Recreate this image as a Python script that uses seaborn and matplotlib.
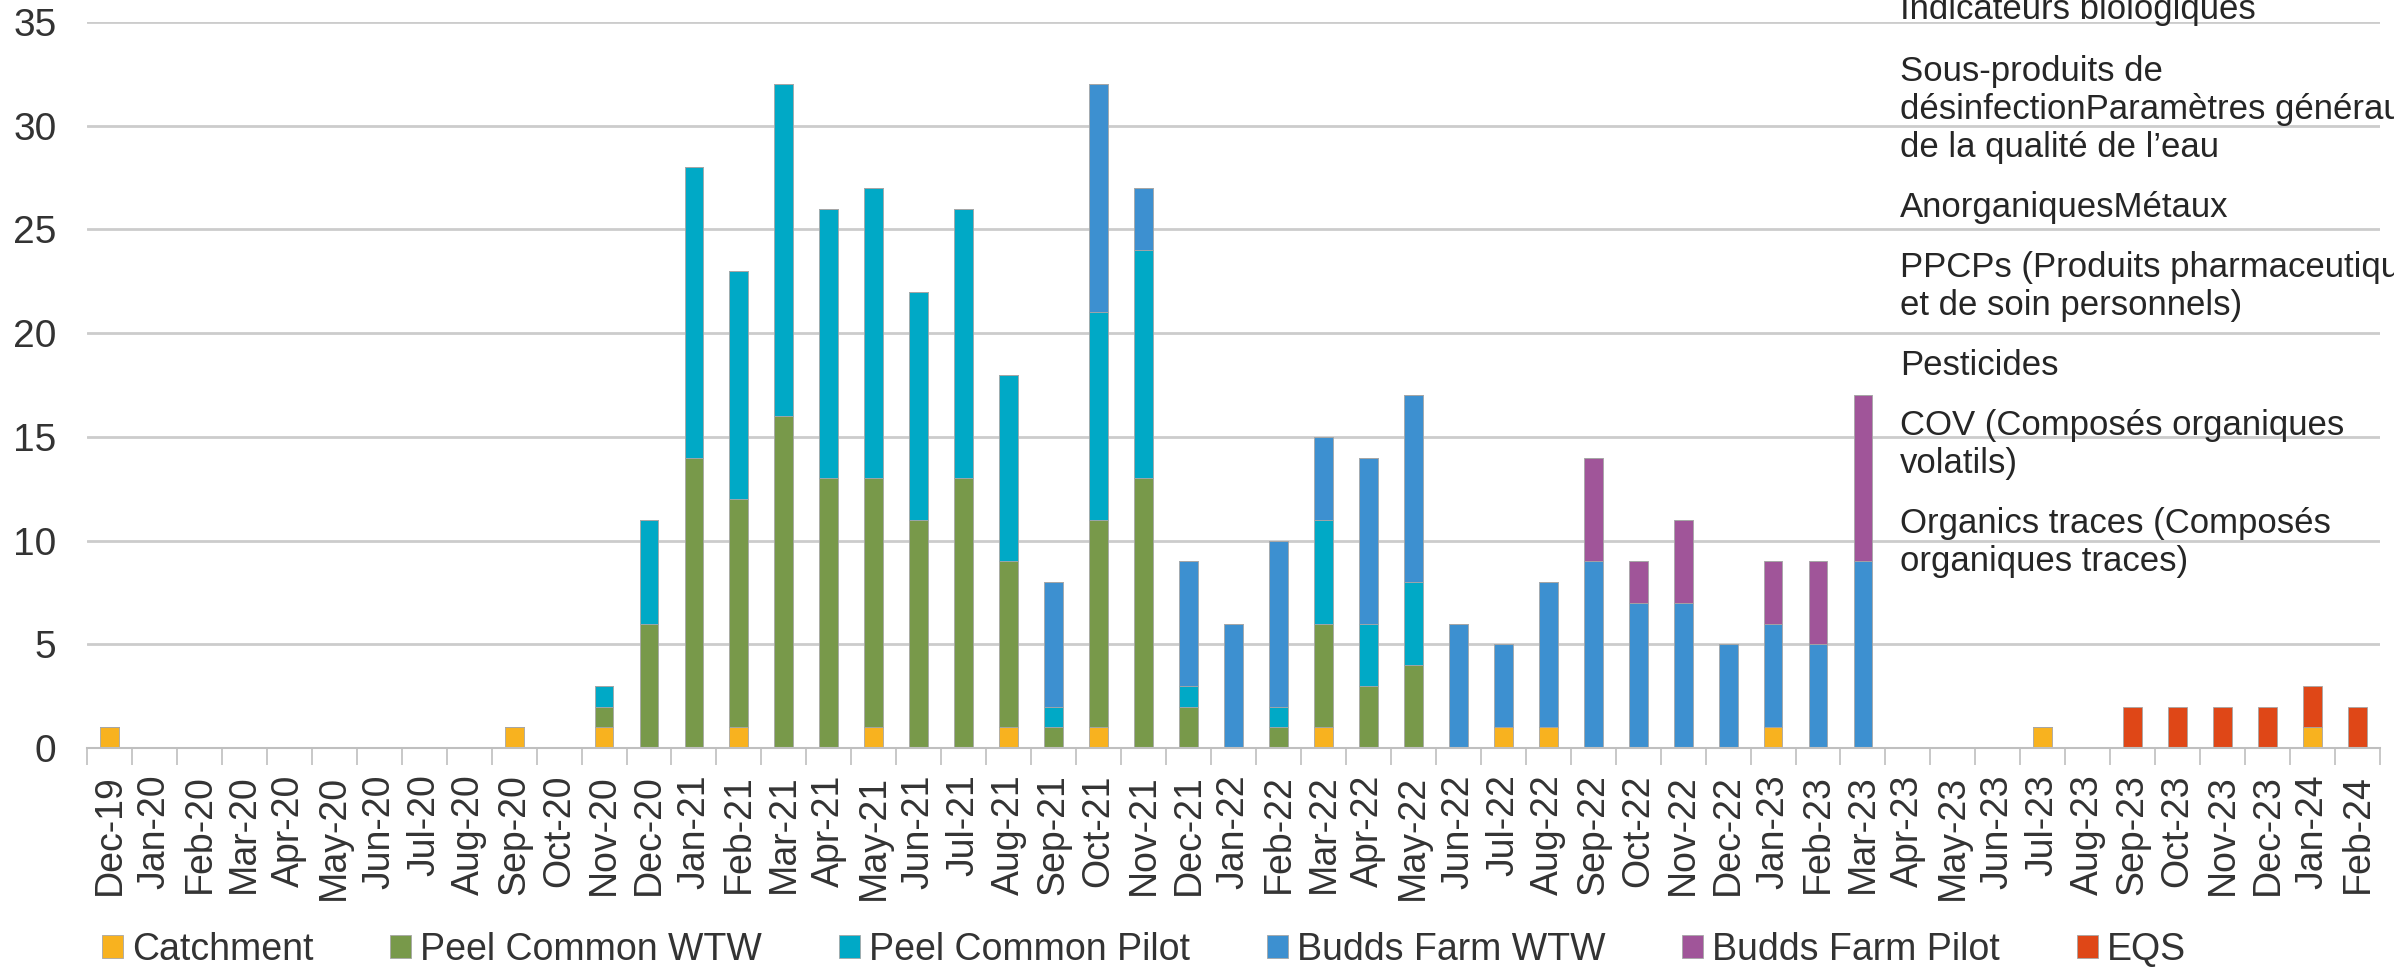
import matplotlib
matplotlib.use("Agg")
import matplotlib.pyplot as plt
from matplotlib.patches import Patch
import numpy as np
import pandas as pd
import seaborn as sns

months = ["Dec-19",
          "Jan-20", "Feb-20", "Mar-20", "Apr-20", "May-20", "Jun-20",
          "Jul-20", "Aug-20", "Sep-20", "Oct-20", "Nov-20", "Dec-20",
          "Jan-21", "Feb-21", "Mar-21", "Apr-21", "May-21", "Jun-21",
          "Jul-21", "Aug-21", "Sep-21", "Oct-21", "Nov-21", "Dec-21",
          "Jan-22", "Feb-22", "Mar-22", "Apr-22", "May-22", "Jun-22",
          "Jul-22", "Aug-22", "Sep-22", "Oct-22", "Nov-22", "Dec-22",
          "Jan-23", "Feb-23", "Mar-23", "Apr-23", "May-23", "Jun-23",
          "Jul-23", "Aug-23", "Sep-23", "Oct-23", "Nov-23", "Dec-23",
          "Jan-24", "Feb-24"]

# Dec-19..Dec-20 | 2021 | 2022 | 2023 | 2024
catchment = [1, 0, 0, 0, 0, 0, 0, 0, 0, 1, 0, 1, 0,
             0, 1, 0, 0, 1, 0, 0, 1, 0, 1, 0, 0,
             0, 0, 1, 0, 0, 0, 1, 1, 0, 0, 0, 0,
             1, 0, 0, 0, 0, 0, 1, 0, 0, 0, 0, 0,
             1, 0]
peel_wtw = [0, 0, 0, 0, 0, 0, 0, 0, 0, 0, 0, 1, 6,
            14, 11, 16, 13, 12, 11, 13, 8, 1, 10, 13, 2,
            0, 1, 5, 3, 4, 0, 0, 0, 0, 0, 0, 0,
            0, 0, 0, 0, 0, 0, 0, 0, 0, 0, 0, 0,
            0, 0]
peel_pilot = [0, 0, 0, 0, 0, 0, 0, 0, 0, 0, 0, 1, 5,
              14, 11, 16, 13, 14, 11, 13, 9, 1, 10, 11, 1,
              0, 1, 5, 3, 4, 0, 0, 0, 0, 0, 0, 0,
              0, 0, 0, 0, 0, 0, 0, 0, 0, 0, 0, 0,
              0, 0]
budds_wtw = [0, 0, 0, 0, 0, 0, 0, 0, 0, 0, 0, 0, 0,
             0, 0, 0, 0, 0, 0, 0, 0, 6, 11, 3, 6,
             6, 8, 4, 8, 9, 6, 4, 7, 9, 7, 7, 5,
             5, 5, 9, 0, 0, 0, 0, 0, 0, 0, 0, 0,
             0, 0]
budds_pilot = [0, 0, 0, 0, 0, 0, 0, 0, 0, 0, 0, 0, 0,
               0, 0, 0, 0, 0, 0, 0, 0, 0, 0, 0, 0,
               0, 0, 0, 0, 0, 0, 0, 0, 5, 2, 4, 0,
               3, 4, 8, 0, 0, 0, 0, 0, 0, 0, 0, 0,
               0, 0]
eqs = [0, 0, 0, 0, 0, 0, 0, 0, 0, 0, 0, 0, 0,
       0, 0, 0, 0, 0, 0, 0, 0, 0, 0, 0, 0,
       0, 0, 0, 0, 0, 0, 0, 0, 0, 0, 0, 0,
       0, 0, 0, 0, 0, 0, 0, 0, 2, 2, 2, 2,
       2, 2]

series_names = ["Catchment", "Peel Common WTW", "Peel Common Pilot",
                "Budds Farm WTW", "Budds Farm Pilot", "EQS"]
colors = ["#F8B21F", "#78994A", "#00A9C6", "#3D90D0", "#A05599", "#DF4717"]

# overflowing text box on the right of the original chart
side_text = ["Indicateurs biologiques",
             "Sous-produits de",
             "désinfectionParamètres généraux",
             "de la qualité de l’eau",
             "AnorganiquesMétaux",
             "PPCPs (Produits pharmaceutiques",
             "et de soin personnels)",
             "Pesticides",
             "COV (Composés organiques",
             "volatils)",
             "Organics traces (Composés",
             "organiques traces)"]
side_text_y = [10, 72, 110, 148, 208, 268, 305, 365, 425, 463, 523, 562]

df = pd.DataFrame({"month": months,
                   "Catchment": catchment,
                   "Peel Common WTW": peel_wtw,
                   "Peel Common Pilot": peel_pilot,
                   "Budds Farm WTW": budds_wtw,
                   "Budds Farm Pilot": budds_pilot,
                   "EQS": eqs})
df["pos"] = np.arange(len(df))
long = df.melt(id_vars=["pos", "month"], var_name="series", value_name="count")

sns.set_theme(style="white")
plt.rcParams["font.family"] = ["Liberation Sans", "DejaVu Sans"]

W, H = 2394, 980
fig = plt.figure(figsize=(W / 100, H / 100), dpi=100)
ax = fig.add_axes([87 / W, 1 - 748 / H, (2380 - 87) / W, (748 - 22) / H])

palette = dict(zip(series_names, colors))
# seaborn stacks the last hue level at the bottom, so reverse the order
sns.histplot(data=long, x="pos", weights="count", hue="series",
             hue_order=series_names[::-1], palette=palette,
             multiple="stack", discrete=True, shrink=0.42, alpha=1,
             edgecolor="#a6a6a6", linewidth=0.6, legend=False, ax=ax)

ax.set_xlim(-0.5, len(months) - 0.5)
ax.set_ylim(0, 35)
ax.set_yticks(range(0, 36, 5))
ax.set_xlabel("")
ax.set_ylabel("")

ax.set_xticks(range(len(months)))
ax.set_xticklabels(months, rotation=90)
ax.set_xticks(np.arange(-0.5, len(months), 1), minor=True)
ax.tick_params(axis="x", which="major", length=0, pad=19,
               labelsize=27, labelcolor="#333333")
ax.tick_params(axis="x", which="minor", length=12, width=1.2,
               color="#bfbfbf", bottom=True)
ax.tick_params(axis="y", length=0, pad=22, labelsize=28,
               labelcolor="#333333")

ax.yaxis.grid(True, color="#cccccc", linewidth=2)
ax.set_axisbelow(True)
sns.despine(ax=ax, left=True)
ax.spines["bottom"].set_color("#bfbfbf")
ax.spines["bottom"].set_linewidth(1.5)

handles = [Patch(facecolor=c, edgecolor="#a6a6a6", linewidth=0.6)
           for c in colors]
fig.legend(handles, series_names, loc="center left",
           bbox_to_anchor=(102 / W, 1 - 950 / H), ncol=6, frameon=False,
           fontsize=27, handlelength=0.55, handleheight=0.55,
           handletextpad=0.25, columnspacing=2.05, borderpad=0,
           borderaxespad=0, labelcolor="#333333")

for line, y in zip(side_text, side_text_y):
    fig.text(1900 / W, 1 - y / H, line, fontsize=25, ha="left",
             va="center", color="#262626")

fig.savefig("out.png", dpi=100)
